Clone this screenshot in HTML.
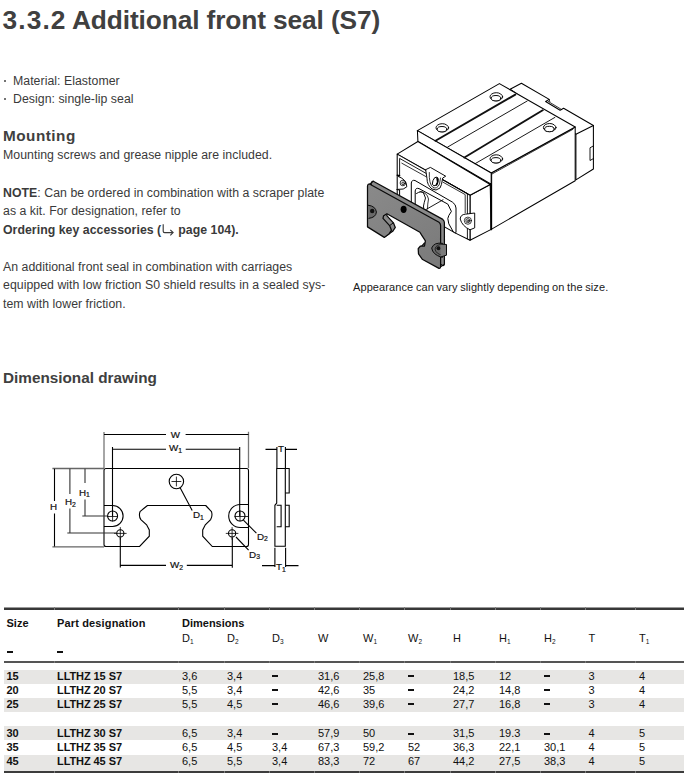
<!DOCTYPE html>
<html><head><meta charset="utf-8">
<style>
*{margin:0;padding:0;box-sizing:border-box}
html,body{width:685px;height:773px;background:#fff;overflow:hidden}
body{position:relative;font-family:"Liberation Sans",sans-serif;color:#3a3a3a}
.t{position:absolute;white-space:nowrap}
.h1{font-size:26.3px;line-height:26px;font-weight:bold;color:#404040}
.b{font-size:12.3px;line-height:12px;letter-spacing:0.04px}
.h2{font-size:15.3px;line-height:15px;font-weight:bold;color:#404040}
.cap{font-size:11px;line-height:11px;color:#1a1a1a}
.bul{position:absolute;width:2.4px;height:2.4px;background:#444;border-radius:50%}
b{font-weight:bold}
svg{position:absolute;left:0;top:0}
.tb{position:absolute;font-size:11px;line-height:11px;color:#111;white-space:nowrap}
.bd{font-weight:bold}
.row{position:absolute;left:4px;width:680px;height:14px;background:#e7e6e4}
.sub{font-size:6.5px;position:relative;top:2px}
</style></head><body>
<div class="t h1" style="left:2.6px;top:7px;letter-spacing:1.1px">3.3.2</div><div class="t h1" style="left:72px;top:7px;letter-spacing:-0.12px">Additional front seal (S7)</div>

<div class="bul" style="left:3.8px;top:79.5px"></div>
<div class="t b" style="left:13px;top:74.6px">Material: Elastomer</div>
<div class="bul" style="left:3.8px;top:97.5px"></div>
<div class="t b" style="left:13px;top:92.6px">Design: single-lip seal</div>

<div class="t h2" style="left:3px;top:128px;letter-spacing:0.5px">Mounting</div>
<div class="t b" style="left:3px;top:148.8px">Mounting screws and grease nipple are included.</div>
<div class="t b" style="left:3px;top:186.6px"><b>NOTE</b>: Can be ordered in combination with a scraper plate</div>
<div class="t b" style="left:3px;top:205.3px">as a kit. For designation, refer to</div>
<div class="t b" style="left:3px;top:224px"><b>Ordering key accessories (<svg style="position:relative;display:inline-block;vertical-align:baseline;left:0;top:0;margin:0 4px 0 1px;overflow:visible" width="12" height="10" viewBox="0 0 12 10"><path d="M1.2,0.3 V7.2 Q1.2,8.6 2.6,8.6 H11 M8.3,5.9 L11.1,8.6 L8.3,11.3" fill="none" stroke="#3a3a3a" stroke-width="1.15"/></svg>page 104).</b></div>
<div class="t b" style="left:3px;top:260.6px">An additional front seal in combination with carriages</div>
<div class="t b" style="left:3px;top:279.3px">equipped with low friction S0 shield results in a sealed sys-</div>
<div class="t b" style="left:3px;top:298px">tem with lower friction.</div>

<div class="t cap" style="left:353px;top:281.5px;letter-spacing:0.1px;word-spacing:-0.6px">Appearance can vary slightly depending on the size.</div>

<div class="t h2" style="left:3px;top:370px">Dimensional drawing</div>

<!-- TABLE -->
<div class="row" style="top:669.8px;height:14px"></div>
<div class="row" style="top:697.8px;height:14px"></div>
<div class="row" style="top:726.3px;height:14px"></div>
<div class="row" style="top:755px;height:16.4px"></div>
<div style="position:absolute;left:4px;top:607px;width:680px;height:1px;background:#9a9a9a"></div>
<div style="position:absolute;left:54px;top:607px;width:1px;height:1px;background:#7a7a7a"></div>
<div style="position:absolute;left:178px;top:607px;width:1px;height:1px;background:#7a7a7a"></div>
<div style="position:absolute;left:224px;top:607px;width:1px;height:1px;background:#7a7a7a"></div>
<div style="position:absolute;left:269px;top:607px;width:1px;height:1px;background:#7a7a7a"></div>
<div style="position:absolute;left:314px;top:607px;width:1px;height:1px;background:#7a7a7a"></div>
<div style="position:absolute;left:359px;top:607px;width:1px;height:1px;background:#7a7a7a"></div>
<div style="position:absolute;left:404px;top:607px;width:1px;height:1px;background:#7a7a7a"></div>
<div style="position:absolute;left:450px;top:607px;width:1px;height:1px;background:#7a7a7a"></div>
<div style="position:absolute;left:495px;top:607px;width:1px;height:1px;background:#7a7a7a"></div>
<div style="position:absolute;left:540px;top:607px;width:1px;height:1px;background:#7a7a7a"></div>
<div style="position:absolute;left:585px;top:607px;width:1px;height:1px;background:#7a7a7a"></div>
<div style="position:absolute;left:635px;top:607px;width:1px;height:1px;background:#7a7a7a"></div>
<div style="position:absolute;left:4px;top:608px;width:680px;height:2px;background:#383838"></div>
<div style="position:absolute;left:54px;top:608px;width:1px;height:2px;background:#7a7a7a"></div>
<div style="position:absolute;left:178px;top:608px;width:1px;height:2px;background:#7a7a7a"></div>
<div style="position:absolute;left:224px;top:608px;width:1px;height:2px;background:#7a7a7a"></div>
<div style="position:absolute;left:269px;top:608px;width:1px;height:2px;background:#7a7a7a"></div>
<div style="position:absolute;left:314px;top:608px;width:1px;height:2px;background:#7a7a7a"></div>
<div style="position:absolute;left:359px;top:608px;width:1px;height:2px;background:#7a7a7a"></div>
<div style="position:absolute;left:404px;top:608px;width:1px;height:2px;background:#7a7a7a"></div>
<div style="position:absolute;left:450px;top:608px;width:1px;height:2px;background:#7a7a7a"></div>
<div style="position:absolute;left:495px;top:608px;width:1px;height:2px;background:#7a7a7a"></div>
<div style="position:absolute;left:540px;top:608px;width:1px;height:2px;background:#7a7a7a"></div>
<div style="position:absolute;left:585px;top:608px;width:1px;height:2px;background:#7a7a7a"></div>
<div style="position:absolute;left:635px;top:608px;width:1px;height:2px;background:#7a7a7a"></div>
<div style="position:absolute;left:4px;top:661.4px;width:680px;height:1.6px;background:#555"></div>
<div style="position:absolute;left:54px;top:661.4px;width:1px;height:1.6px;background:#7a7a7a"></div>
<div style="position:absolute;left:178px;top:661.4px;width:1px;height:1.6px;background:#7a7a7a"></div>
<div style="position:absolute;left:224px;top:661.4px;width:1px;height:1.6px;background:#7a7a7a"></div>
<div style="position:absolute;left:269px;top:661.4px;width:1px;height:1.6px;background:#7a7a7a"></div>
<div style="position:absolute;left:314px;top:661.4px;width:1px;height:1.6px;background:#7a7a7a"></div>
<div style="position:absolute;left:359px;top:661.4px;width:1px;height:1.6px;background:#7a7a7a"></div>
<div style="position:absolute;left:404px;top:661.4px;width:1px;height:1.6px;background:#7a7a7a"></div>
<div style="position:absolute;left:450px;top:661.4px;width:1px;height:1.6px;background:#7a7a7a"></div>
<div style="position:absolute;left:495px;top:661.4px;width:1px;height:1.6px;background:#7a7a7a"></div>
<div style="position:absolute;left:540px;top:661.4px;width:1px;height:1.6px;background:#7a7a7a"></div>
<div style="position:absolute;left:585px;top:661.4px;width:1px;height:1.6px;background:#7a7a7a"></div>
<div style="position:absolute;left:635px;top:661.4px;width:1px;height:1.6px;background:#7a7a7a"></div>
<div style="position:absolute;left:4px;top:771.3px;width:680px;height:2px;background:#3c3c3c"></div>
<div style="position:absolute;left:54px;top:771.3px;width:1px;height:2px;background:#7a7a7a"></div>
<div style="position:absolute;left:178px;top:771.3px;width:1px;height:2px;background:#7a7a7a"></div>
<div style="position:absolute;left:224px;top:771.3px;width:1px;height:2px;background:#7a7a7a"></div>
<div style="position:absolute;left:269px;top:771.3px;width:1px;height:2px;background:#7a7a7a"></div>
<div style="position:absolute;left:314px;top:771.3px;width:1px;height:2px;background:#7a7a7a"></div>
<div style="position:absolute;left:359px;top:771.3px;width:1px;height:2px;background:#7a7a7a"></div>
<div style="position:absolute;left:404px;top:771.3px;width:1px;height:2px;background:#7a7a7a"></div>
<div style="position:absolute;left:450px;top:771.3px;width:1px;height:2px;background:#7a7a7a"></div>
<div style="position:absolute;left:495px;top:771.3px;width:1px;height:2px;background:#7a7a7a"></div>
<div style="position:absolute;left:540px;top:771.3px;width:1px;height:2px;background:#7a7a7a"></div>
<div style="position:absolute;left:585px;top:771.3px;width:1px;height:2px;background:#7a7a7a"></div>
<div style="position:absolute;left:635px;top:771.3px;width:1px;height:2px;background:#7a7a7a"></div>
<div class="tb bd" style="left:6.5px;top:618.29px;">Size</div>
<div class="tb bd" style="left:57px;top:618.29px;letter-spacing:0.15px">Part designation</div>
<div class="tb bd" style="left:182px;top:618.49px;">Dimensions</div>
<div class="tb " style="left:182px;top:632.89px;">D<span class="sub">1</span></div>
<div class="tb " style="left:227px;top:632.89px;">D<span class="sub">2</span></div>
<div class="tb " style="left:272px;top:632.89px;">D<span class="sub">3</span></div>
<div class="tb " style="left:318px;top:632.89px;">W</div>
<div class="tb " style="left:363px;top:632.89px;">W<span class="sub">1</span></div>
<div class="tb " style="left:408px;top:632.89px;">W<span class="sub">2</span></div>
<div class="tb " style="left:453px;top:632.89px;">H</div>
<div class="tb " style="left:499px;top:632.89px;">H<span class="sub">1</span></div>
<div class="tb " style="left:544px;top:632.89px;">H<span class="sub">2</span></div>
<div class="tb " style="left:588.5px;top:632.89px;">T</div>
<div class="tb " style="left:639px;top:632.89px;">T<span class="sub">1</span></div>
<div style="position:absolute;left:7px;top:651px;width:6px;height:2px;background:#111"></div>
<div style="position:absolute;left:57px;top:651px;width:6px;height:2px;background:#111"></div>
<div class="tb bd" style="left:6.5px;top:670.99px;letter-spacing:-0.08px">15</div>
<div class="tb bd" style="left:57px;top:670.99px;letter-spacing:-0.08px">LLTHZ 15 S7</div>
<div class="tb " style="left:182px;top:670.99px;">3,6</div>
<div class="tb " style="left:227px;top:670.99px;">3,4</div>
<div style="position:absolute;left:272px;top:675.3px;width:6px;height:2px;background:#111"></div>
<div class="tb " style="left:318px;top:670.99px;">31,6</div>
<div class="tb " style="left:363px;top:670.99px;">25,8</div>
<div style="position:absolute;left:408px;top:675.3px;width:6px;height:2px;background:#111"></div>
<div class="tb " style="left:453px;top:670.99px;">18,5</div>
<div class="tb " style="left:499px;top:670.99px;">12</div>
<div style="position:absolute;left:544px;top:675.3px;width:6px;height:2px;background:#111"></div>
<div class="tb " style="left:588.5px;top:670.99px;">3</div>
<div class="tb " style="left:639px;top:670.99px;">4</div>
<div class="tb bd" style="left:6.5px;top:684.99px;letter-spacing:-0.08px">20</div>
<div class="tb bd" style="left:57px;top:684.99px;letter-spacing:-0.08px">LLTHZ 20 S7</div>
<div class="tb " style="left:182px;top:684.99px;">5,5</div>
<div class="tb " style="left:227px;top:684.99px;">3,4</div>
<div style="position:absolute;left:272px;top:689.3px;width:6px;height:2px;background:#111"></div>
<div class="tb " style="left:318px;top:684.99px;">42,6</div>
<div class="tb " style="left:363px;top:684.99px;">35</div>
<div style="position:absolute;left:408px;top:689.3px;width:6px;height:2px;background:#111"></div>
<div class="tb " style="left:453px;top:684.99px;">24,2</div>
<div class="tb " style="left:499px;top:684.99px;">14,8</div>
<div style="position:absolute;left:544px;top:689.3px;width:6px;height:2px;background:#111"></div>
<div class="tb " style="left:588.5px;top:684.99px;">3</div>
<div class="tb " style="left:639px;top:684.99px;">4</div>
<div class="tb bd" style="left:6.5px;top:698.99px;letter-spacing:-0.08px">25</div>
<div class="tb bd" style="left:57px;top:698.99px;letter-spacing:-0.08px">LLTHZ 25 S7</div>
<div class="tb " style="left:182px;top:698.99px;">5,5</div>
<div class="tb " style="left:227px;top:698.99px;">4,5</div>
<div style="position:absolute;left:272px;top:703.3px;width:6px;height:2px;background:#111"></div>
<div class="tb " style="left:318px;top:698.99px;">46,6</div>
<div class="tb " style="left:363px;top:698.99px;">39,6</div>
<div style="position:absolute;left:408px;top:703.3px;width:6px;height:2px;background:#111"></div>
<div class="tb " style="left:453px;top:698.99px;">27,7</div>
<div class="tb " style="left:499px;top:698.99px;">16,8</div>
<div style="position:absolute;left:544px;top:703.3px;width:6px;height:2px;background:#111"></div>
<div class="tb " style="left:588.5px;top:698.99px;">3</div>
<div class="tb " style="left:639px;top:698.99px;">4</div>
<div class="tb bd" style="left:6.5px;top:728.29px;letter-spacing:-0.08px">30</div>
<div class="tb bd" style="left:57px;top:728.29px;letter-spacing:-0.08px">LLTHZ 30 S7</div>
<div class="tb " style="left:182px;top:728.29px;">6,5</div>
<div class="tb " style="left:227px;top:728.29px;">3,4</div>
<div style="position:absolute;left:272px;top:732.6px;width:6px;height:2px;background:#111"></div>
<div class="tb " style="left:318px;top:728.29px;">57,9</div>
<div class="tb " style="left:363px;top:728.29px;">50</div>
<div style="position:absolute;left:408px;top:732.6px;width:6px;height:2px;background:#111"></div>
<div class="tb " style="left:453px;top:728.29px;">31,5</div>
<div class="tb " style="left:499px;top:728.29px;">19.3</div>
<div style="position:absolute;left:544px;top:732.6px;width:6px;height:2px;background:#111"></div>
<div class="tb " style="left:588.5px;top:728.29px;">4</div>
<div class="tb " style="left:639px;top:728.29px;">5</div>
<div class="tb bd" style="left:6.5px;top:742.29px;letter-spacing:-0.08px">35</div>
<div class="tb bd" style="left:57px;top:742.29px;letter-spacing:-0.08px">LLTHZ 35 S7</div>
<div class="tb " style="left:182px;top:742.29px;">6,5</div>
<div class="tb " style="left:227px;top:742.29px;">4,5</div>
<div class="tb " style="left:272px;top:742.29px;">3,4</div>
<div class="tb " style="left:318px;top:742.29px;">67,3</div>
<div class="tb " style="left:363px;top:742.29px;">59,2</div>
<div class="tb " style="left:408px;top:742.29px;">52</div>
<div class="tb " style="left:453px;top:742.29px;">36,3</div>
<div class="tb " style="left:499px;top:742.29px;">22,1</div>
<div class="tb " style="left:544px;top:742.29px;">30,1</div>
<div class="tb " style="left:588.5px;top:742.29px;">4</div>
<div class="tb " style="left:639px;top:742.29px;">5</div>
<div class="tb bd" style="left:6.5px;top:756.19px;letter-spacing:-0.08px">45</div>
<div class="tb bd" style="left:57px;top:756.19px;letter-spacing:-0.08px">LLTHZ 45 S7</div>
<div class="tb " style="left:182px;top:756.19px;">6,5</div>
<div class="tb " style="left:227px;top:756.19px;">5,5</div>
<div class="tb " style="left:272px;top:756.19px;">3,4</div>
<div class="tb " style="left:318px;top:756.19px;">83,3</div>
<div class="tb " style="left:363px;top:756.19px;">72</div>
<div class="tb " style="left:408px;top:756.19px;">67</div>
<div class="tb " style="left:453px;top:756.19px;">44,2</div>
<div class="tb " style="left:499px;top:756.19px;">27,5</div>
<div class="tb " style="left:544px;top:756.19px;">38,3</div>
<div class="tb " style="left:588.5px;top:756.19px;">4</div>
<div class="tb " style="left:639px;top:756.19px;">5</div>
<svg width="685" height="773" viewBox="0 0 685 773">
<!-- ============ 3D ILLUSTRATION ============ -->
<g fill="#fff" stroke="#000" stroke-width="1.05" stroke-linejoin="round" stroke-linecap="round">
  <!-- rear block -->
  <polygon points="510.1,89.2 521.4,83.2 549.2,99.4 545.6,101.5 560.1,110.3 563.6,108.2 593.4,125.5 593.4,169 575.9,179.9 575.9,134.2"/>
  <polyline fill="none" points="575.9,134.2 593.4,125.5"/>
  <polyline fill="none" points="548,101.3 560.6,108.9" stroke-width="0.8"/><polyline fill="none" points="549.2,99.4 549.8,101.6" stroke-width="0.8"/>
  <polyline fill="none" points="593.4,145.9 590,147.8 590,160.5 593.4,158.6" stroke-width="0.9"/>
  <!-- carriage right face -->
  <polygon points="575.2,127 575.2,180.7 491.2,229.4 491.2,173"/>
  <!-- end cap right face -->
  <polygon points="470,195.3 490.2,184.5 491.2,229.4 470,240.3"/>
  <line x1="491.2" y1="173" x2="491.2" y2="229.4" stroke-width="1.9"/>
  <!-- top face -->
  <polygon points="499.4,83.6 575.2,127 491.2,173 417.4,130.6"/>
  <polyline fill="none" points="419.8,133.2 491.3,174.4 572.8,129.4" stroke-width="0.8"/>
  <!-- flange front strip -->
  <polygon points="417.4,130.6 491.2,173 491.2,184.3 417.9,141.5"/>
  <!-- end cap top -->
  <polygon points="417.9,141.5 397.2,154.1 470,195.3 490.2,184.5"/>
  <!-- end cap front face -->
  <polygon points="397.2,154.1 470,195.3 470,240.3 455.5,233.1 397.2,200"/>
  <!-- frame double line -->
  <polyline fill="none" points="399.6,175.8 399.6,158.4 426.5,173.6" stroke-width="0.9"/>
  <polyline fill="none" points="397.2,175.2 399.6,175.8" stroke-width="1.4"/>
  <polyline fill="none" points="442.5,179.4 467.4,193.6 467.4,214" stroke-width="0.9"/>
  <polyline fill="none" points="401.8,163.2 426.3,176.8" stroke-width="0.8"/>
  <polyline fill="none" points="443,182.2 465.2,194.6 465.2,213" stroke-width="0.8"/>
  <polyline fill="none" points="467.4,226 467.4,238.8" stroke-width="0.9"/>
  <!-- grooves -->
  <line x1="435.5" y1="140.8" x2="515.3" y2="94.6" stroke-width="1.9" stroke="#111"/>
  <line x1="447.7" y1="147" x2="527.2" y2="101" stroke-width="0.9"/>
  <line x1="464.4" y1="157.5" x2="542.7" y2="110.3" stroke-width="1.9" stroke="#111"/>
  <line x1="475.2" y1="163.6" x2="554.9" y2="117.4" stroke-width="0.9"/>
  <!-- holes -->
  <g stroke-width="0.95">
    <ellipse cx="442.3" cy="127.8" rx="6.3" ry="4.1"/><ellipse cx="442" cy="129.2" rx="4.8" ry="2.7"/>
    <ellipse cx="496.3" cy="96.8" rx="6.3" ry="4.1"/><ellipse cx="496" cy="98.2" rx="4.8" ry="2.7"/>
    <ellipse cx="549.7" cy="127.6" rx="6.3" ry="4.1"/><ellipse cx="549.4" cy="129" rx="4.8" ry="2.7"/>
    <ellipse cx="496.3" cy="158.9" rx="6.3" ry="4.1"/><ellipse cx="496" cy="160.3" rx="4.8" ry="2.7"/>
  </g>
  <!-- center lug -->
  <path d="M426,169.5 L430.4,167.4 L445.7,176.2 L442.7,178 Q441.5,186 440,188 Q436,191.5 432,189 Q427,185 427,179 Z" stroke-width="0.95"/>
  <path d="M429.3,172.5 Q428.8,184 433,187.5 Q437,189.5 439.5,184 L440.5,178" fill="none" stroke-width="0.8"/>
  <ellipse cx="435.3" cy="181.5" rx="2.5" ry="4.6" transform="rotate(20 435.3 181.5)" fill="none" stroke-width="0.9"/>
  <path d="M437,178 Q438.5,182 436.5,185" fill="none" stroke-width="1.6"/>
  <!-- left lug -->
  <path d="M398.4,176.5 Q406.8,179.5 406.8,186.8 Q404,190 398.4,189.4" stroke-width="0.95"/>
  <circle cx="402.9" cy="183" r="2.8" fill="none" stroke-width="0.8"/>
  <circle cx="403.1" cy="183.3" r="1.3" fill="none" stroke-width="0.8"/>
  <polyline fill="none" points="396.8,189.5 399.6,190 399.6,198" stroke-width="1"/>
  <!-- right lug -->
  <path d="M474.7,213.4 L474.7,227.9 L470,229.8 Q462,226 460.2,219 Q460.5,214.5 465,214.2 Z" stroke-width="0.95"/>
  <circle cx="467.9" cy="220.7" r="3.6" fill="none" stroke-width="0.75"/>
  <circle cx="467.9" cy="220.7" r="2.1" fill="none" stroke-width="0.75"/>
  <circle cx="468" cy="220.8" r="0.9" fill="none" stroke-width="0.7"/>
  <!-- rail opening outer -->
  <path d="M411.3,205 L411.3,183 Q411.8,179.6 415,180.5 L452.4,202.1 Q456,204.5 456,208 L456,232 L455.5,233.1" fill="none" stroke-width="1"/>
  <!-- rail opening inner contour -->
  <path d="M415.2,206 L415.2,191 Q415.5,187.5 419,188.6 L447.8,204.1 L451.4,211.4 L448.8,215.5 L447.8,218.6 L448.8,223.8 L453.4,232" fill="none" stroke-width="1"/>
  <!-- rail tooth -->
  <path d="M416.5,193.5 Q421,190.5 423.5,193 L425.5,198 Q424,203 423.5,206 L424,212.5" fill="none" stroke-width="0.95"/>
  <path d="M420,191.5 Q427,192 428.5,199 Q427.5,204 427.5,209" fill="none" stroke-width="0.8"/>
  <line x1="424.3" y1="210.5" x2="443" y2="199.8" stroke-width="0.9"/>
</g>
<!-- seal plate -->
<defs><linearGradient id="pg" x1="367" y1="182" x2="440" y2="268" gradientUnits="userSpaceOnUse"><stop offset="0" stop-color="#8a8a8a"/><stop offset="1" stop-color="#7a7a7a"/></linearGradient></defs>
<g stroke="#0a0a0a" stroke-linejoin="round" stroke-width="1.25">
  <g transform="translate(3.8,-2.8)">
    <path id="plateF" d="M369.5,184 L439,222.2 Q440.6,223.4 440.6,225.6 L440.6,267 Q440.3,268.6 439,268.4 L422.2,259.2 L418.5,253.9 L418.2,248.7 L420.5,246 L424.5,246 L425.4,240.8 L421.5,234.9 L419.9,232.2 L386.9,213.8 L383.6,215.7 L383,218.4 L389.6,225.6 L391.5,230.2 L388.9,234.1 L384.3,237.4 L367.5,226.9 L367.5,186 Q367.7,183.9 369.5,184 Z" fill="#8a8a8a"/>
  </g>
  <path d="M367.5,186 L369.5,184 L373.3,181.2 L371.3,183.2 Z" fill="#8a8a8a" stroke-width="1"/><path d="M440.6,267 L444.4,264.2 M422.2,259.2 L426,256.4 M383.6,215.7 L387.4,212.9 M389.6,225.6 L393.4,222.8 M384.3,237.4 L388.1,234.6 M418.2,248.7 L422,245.9" stroke-width="1"/>
  <path d="M369.5,184 L439,222.2 Q440.6,223.4 440.6,225.6 L440.6,267 Q440.3,268.6 439,268.4 L422.2,259.2 L418.5,253.9 L418.2,248.7 L420.5,246 L424.5,246 L425.4,240.8 L421.5,234.9 L419.9,232.2 L386.9,213.8 L383.6,215.7 L383,218.4 L389.6,225.6 L391.5,230.2 L388.9,234.1 L384.3,237.4 L367.5,226.9 L367.5,186 Q367.7,183.9 369.5,184 Z" fill="url(#pg)"/>
  <ellipse cx="403.6" cy="209.3" rx="3" ry="3.6" fill="#000" stroke="none"/>
  <path d="M367.9,205.2 Q375.5,206 376.4,212 Q376,217.5 368.5,218.4" fill="#6a6a6a" stroke-width="1"/>
  <circle cx="372.2" cy="211" r="2.2" fill="#111" stroke="none"/>
  <path d="M442.9,243.4 Q434,242 431.7,248 Q432.5,254.5 441.5,257.2 L442.9,257.2" fill="#6a6a6a" stroke-width="1"/>
  <path d="M442.9,244.5 Q436,244 435,249 Q436,254 442,255" fill="none" stroke-width="0.7"/>
  <circle cx="438.5" cy="248.3" r="2" fill="#111" stroke="none"/>
  <path d="M440.6,244 L446.5,244.5 L446.5,255.2 L440.6,257" fill="#7a7a7a" stroke-width="1"/>
</g>

<!-- ============ DIMENSIONAL DRAWING ============ -->
<g fill="none" stroke="#000" stroke-width="1.1">
  <!-- body -->
  <path d="M139.6,546.5 H106 Q104,546.5 104,544.5 V470.5 Q104,468.5 106,468.5 H246.5 Q248.5,468.5 248.5,470.5 V544.5 Q248.5,546.5 246.5,546.5 H212.3 L202.7,536.2 V530 L205.3,524.8 L210.6,519.6 Q212.8,516 211.5,511.7 Q209,509 205.7,505.5 H147.5 Q143,509 140,511.7 Q138.5,516 140.9,519.6 L146.6,524.8 L149.3,530 V536.2 Z"/>
  <!-- lugs -->
  <path d="M104,505.5 H112.6 A10.5,10.5 0 0 1 112.6,526.5 H104"/>
  <path d="M248.5,504.5 H240.2 A11.5,11.5 0 0 0 240.2,527.5 H248.5"/>
  <circle cx="112.6" cy="516" r="5"/>
  <circle cx="240" cy="516" r="5"/>
  <circle cx="176.4" cy="481.5" r="7.2"/>
  <circle cx="120.3" cy="533.4" r="3.6"/>
  <circle cx="232.1" cy="533.4" r="3.6"/>
  <!-- crosshairs -->
  <path d="M107,516.5 H118 M112.6,510.5 V521.5 M234.5,516.5 H248 M240,510.5 V521.5 M171.5,481.5 H181.3 M176.4,476.6 V486.4 M114,533.4 H126.6 M120.3,527.1 V539.7 M225.8,533.4 H238.4 M232.1,527.1 V539.7" stroke-width="0.8"/>
  <!-- W dims -->
  <path d="M104,432 V468 M248.5,431.7 V468" stroke="#777" stroke-width="1.3"/><path d="M104,434.5 H166 M185.6,434.5 H248.5"/>
  <path d="M112.5,447 V516 M239.7,447 V516 M112.5,449.3 H166 M185.7,449.3 H239.7"/>
  <!-- H dims -->
  <path d="M52.4,468.5 H104 M52.4,546.8 H104" stroke="#666" stroke-width="1.3"/>
  <path d="M54.5,468.8 V501 M54.5,513.5 V546.6"/>
  <path d="M69.9,468.8 V494 M69.9,508.5 V533 M67.3,533 H116" stroke="#333"/>
  <path d="M85,468.8 V483 M85,499.5 V516 M82.3,516 H107" stroke="#333"/>
  <!-- W2 -->
  <path d="M120.3,537.4 V567.4 M232.3,537.4 V567.8 M120.3,565.4 H166 M186.8,565.4 H232.3"/>
  <!-- leaders -->
  <path d="M180,487.5 L192.2,510.5 M243.4,520.2 L256.4,533.1 M236,537 L248.6,550.2"/>
  <!-- side view -->
  <path d="M276.7,468.5 H285.3 V546.2 H274.9 V505.3 L276.7,503 Z"/>
  <path d="M285.3,468.5 H289.2 V493 H285.3 M285.3,505.3 H289.2 V526.8 H285.3 M276.7,505.3 H281.1 V526.8 H276.7"/>
  <path d="M276.9,447 V468 M285.4,447 V468 M265.5,449.4 H276.9 M285.4,449.4 H297"/>
  <path d="M274.9,547.7 V567 M285.6,547.7 V567 M262,565.6 H274.9 M285.6,565.6 H298.5"/>
</g>
<g font-family="Liberation Sans, sans-serif" font-size="9.8" fill="#111" stroke="#111" stroke-width="0.2">
  <text x="170.8" y="438">W</text>
  <text x="169" y="451.3">W<tspan font-size="6.8" dy="1.7">1</tspan></text>
  <text x="50" y="510.4">H</text>
  <text x="65" y="505.4">H<tspan font-size="6.8" dy="1.7">2</tspan></text>
  <text x="79" y="495.6">H<tspan font-size="6.8" dy="1.7">1</tspan></text>
  <text x="193" y="518">D<tspan font-size="6.8" dy="1.7">1</tspan></text>
  <text x="256.9" y="539.5">D<tspan font-size="6.8" dy="1.7">2</tspan></text>
  <text x="249.1" y="557.5">D<tspan font-size="6.8" dy="1.7">3</tspan></text>
  <text x="170" y="568">W<tspan font-size="6.8" dy="1.7">2</tspan></text>
  <text x="278" y="451.8">T</text>
  <text x="276" y="570">T<tspan font-size="6.8" dy="1.7">1</tspan></text>
</g>
</svg>

</body></html>
